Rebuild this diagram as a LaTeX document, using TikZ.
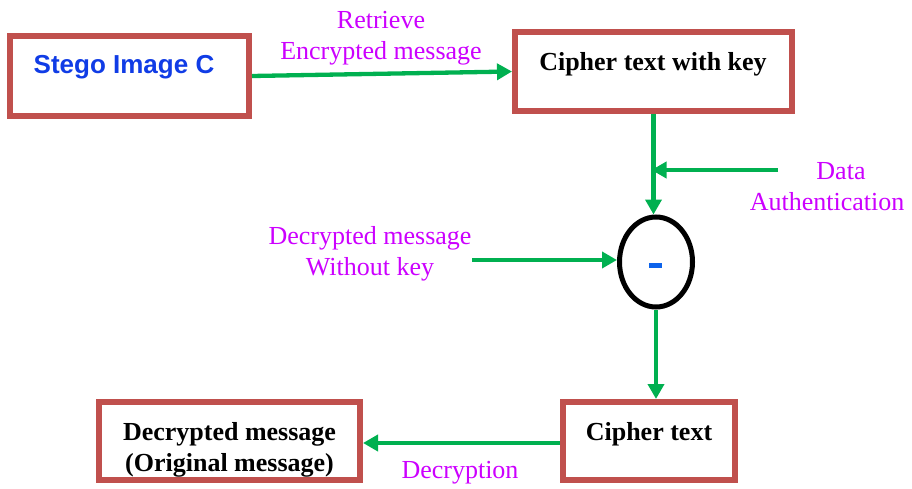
\documentclass[tikz,border=0pt]{standalone}
\usepackage{fontspec}
\setmainfont{Liberation Serif}
\newfontfamily\labelsans{Liberation Sans}
\usetikzlibrary{arrows.meta,shapes.geometric,calc}

\definecolor{boxred}{RGB}{192,80,77}
\definecolor{flowgreen}{RGB}{0,176,80}
\definecolor{notemagenta}{RGB}{204,0,255}
\definecolor{titleblue}{RGB}{16,60,230}

\tikzset{
  box/.style={draw=boxred, line width=6pt, fill=white, rectangle, inner sep=0pt},
  boxtext/.style={font=\fontsize{26}{31}\selectfont\bfseries, text=black, align=center, inner sep=0pt},
  note/.style={font=\fontsize{26}{31}\selectfont, text=notemagenta, align=center, inner sep=0pt},
  flow/.style={draw=flowgreen, line width=4.3pt, -{Triangle[length=15pt,width=16pt]}},
  joiner/.style={draw=black, line width=5pt, ellipse, inner sep=0pt, fill=white}
}

\begin{document}
\begin{tikzpicture}[x=1pt,y=-1pt]
  \useasboundingbox (0,0) rectangle (912,489);

  % boxes
  \node[box, minimum width=239pt, minimum height=80pt] (stego) at (129.5,76) {};
  \node[font=\fontsize{26}{31}\selectfont\labelsans\bfseries, text=titleblue, inner sep=0pt] (stegolbl) at (124,67) {Stego Image C};

  \node[box, minimum width=277pt, minimum height=79pt] (cipherkey) at (653.5,71.5) {};
  \node[boxtext] (cipherkeylbl) at (653,64) {Cipher text with key};

  \node[joiner, minimum width=73pt, minimum height=90pt] (minus) at (656,262) {};
  \node[fill=titleblue!80!cyan, minimum width=13pt, minimum height=5pt, inner sep=0pt] (minusbar) at (655,265) {};

  \node[box, minimum width=172pt, minimum height=78pt] (ciphertext) at (649,441) {};
  \node[boxtext] (ciphertextlbl) at (649,434) {Cipher text};

  \node[box, minimum width=261pt, minimum height=78pt] (decrypted) at (229.5,441) {};
  \node[boxtext] (decryptedlbl) at (229.5,450) {Decrypted message\\(Original message)};

  % annotations
  \node[note] (retrievelbl) at (381,38) {Retrieve\\Encrypted message};
  \node[note] (authlbl) at (827,187) {\hspace*{28pt}Data\\Authentication};
  \node[note] (nokeylbl) at (370,254) {Decrypted message\\Without key};
  \node[note] (decryptlbl) at (460,473) {Decryption};

  % free ends of the side inputs
  \coordinate (authstart) at (778,170);
  \coordinate (nokeystart) at (472,260);

  % connectors
  \draw[flow] (stego.east) -- (cipherkey.west);
  \draw[flow] (cipherkey.south) -- (cipherkey.south |- minus.north);
  \draw[flow, shorten >=-2pt] (authstart) -- (authstart -| cipherkey.south);
  \draw[flow] (nokeystart) -- (nokeystart -| minus.west);
  \draw[flow] (minus.south) -- (minus.south |- ciphertext.north);
  \draw[flow] ($(ciphertext.west)+(0,2)$) -- ($(decrypted.east)+(0,2)$);
\end{tikzpicture}
\end{document}
